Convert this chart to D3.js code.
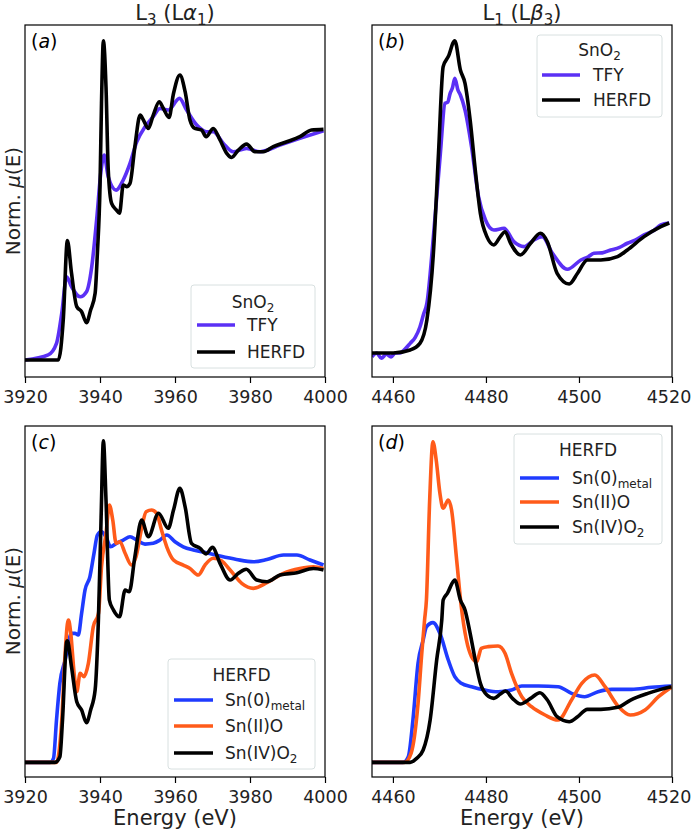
<!DOCTYPE html>
<html><head><meta charset="utf-8">
<script src="https://cdn.jsdelivr.net/npm/d3@7"></script>
<style>body{margin:0;background:#fff}svg{display:block}text{font-family:"DejaVu Sans",sans-serif}</style>
</head><body><svg id="c" width="692" height="832"></svg>
<script>
// ---- DATA ----
const tfyA_E = [3920,3926.2,3928.4,3929.8,3931.1,3932.4,3934.7,3936.4,3937.8,3939.1,3940.3,3941.1,3942.2,3944.3,3946.2,3948.0,3949.8,3952.0,3954.2,3956.0,3958.2,3961.2,3963.1,3965.8,3968.4,3970.2,3972.9,3975.5,3979.1,3982.7,3988.0,3993.3,3999.6];
const tfyA_V = [0,0.022,0.072,0.203,0.362,0.319,0.275,0.297,0.406,0.609,0.826,0.891,0.797,0.739,0.783,0.855,0.949,1.014,1.058,1.094,1.087,1.138,1.087,1.022,0.993,0.993,0.942,0.906,0.92,0.906,0.935,0.964,0.997];
const herfdA_E = [3920,3928.9,3930.2,3931.3,3932.4,3933.8,3935.1,3936.4,3937.5,3938.7,3939.3,3940.0,3940.4,3940.9,3941.6,3942.2,3943.1,3944.4,3945.2,3946.2,3947.1,3948.0,3949.3,3950.7,3951.6,3952.9,3954.2,3955.8,3956.9,3958.4,3959.6,3961.3,3962.7,3964.0,3965.3,3967.1,3968.3,3970.2,3972.0,3973.8,3975.1,3976.9,3979.1,3981.3,3983.6,3986.2,3989.8,3993.3,3996.4,3999.6];
const herfdA_V = [0,0,0.174,0.519,0.378,0.232,0.21,0.162,0.217,0.29,0.464,0.754,1.116,1.388,1.188,0.826,0.681,0.652,0.638,0.761,0.754,0.768,0.928,1.065,1.043,1.007,1.065,1.123,1.094,1.055,1.159,1.239,1.167,1.043,1.007,1.0,0.971,1.007,0.957,0.899,0.881,0.913,0.939,0.906,0.906,0.928,0.949,0.971,1.0,1.003];

const tfyB_E = [4455.5,4456.5,4457.5,4458.6,4459.6,4460.5,4461.5,4462.6,4463.7,4464.8,4465.8,4466.6,4467.3,4468.7,4470.2,4471.2,4471.8,4472.3,4472.8,4473.3,4474.0,4474.5,4475.5,4476.9,4478.4,4479.9,4481.7,4483.9,4486.0,4488.2,4490.3,4492.1,4494.3,4497.5,4500.4,4502.0,4503.2,4505.0,4506.8,4508.6,4510.4,4512.2,4514.0,4516.0,4517.6,4519.4];
const tfyB_V = [-0.03,0.0,-0.04,-0.01,-0.03,0.0,0.0,0.03,0.074,0.12,0.2,0.3,0.382,0.895,1.536,1.921,1.93,1.997,2.04,2.113,2.02,1.985,1.869,1.587,1.203,1.023,0.946,0.959,0.856,0.818,0.869,0.895,0.767,0.644,0.715,0.74,0.767,0.77,0.792,0.81,0.844,0.87,0.908,0.94,0.985,1.0];
const herfdB_E = [4455.5,4460.1,4463.7,4465.8,4467.3,4468.7,4469.8,4470.8,4471.9,4473.3,4474.5,4475.5,4476.6,4477.7,4478.8,4480.2,4481.7,4483.1,4484.1,4485.3,4487.4,4489.6,4491.7,4493.2,4495.3,4497.9,4499.7,4501.8,4504.7,4508.3,4510.4,4514.0,4517.6,4519.4];
const herfdB_V = [0,0,0.023,0.074,0.254,0.767,1.536,2.203,2.28,2.402,2.177,2.074,1.792,1.408,1.074,0.895,0.831,0.895,0.933,0.844,0.754,0.844,0.921,0.856,0.613,0.531,0.613,0.715,0.715,0.741,0.792,0.895,0.972,1.0];

const sn0C_E = [3920,3926.7,3927.6,3928.4,3929.3,3930.7,3932.4,3933.3,3934.2,3935.1,3936.0,3937.3,3938.4,3939.3,3940.4,3941.8,3942.8,3944.4,3946.2,3948.0,3949.8,3952.0,3954.2,3956.0,3957.8,3960.0,3962.2,3964.9,3968.4,3972.0,3976.4,3980.9,3984.5,3988.9,3992.5,3996.0,3999.6];
const sn0C_V = [0,0,0.021,0.22,0.411,0.532,0.671,0.671,0.662,0.775,0.896,0.965,1.087,1.182,1.2,1.164,1.121,1.139,1.156,1.173,1.156,1.135,1.139,1.156,1.182,1.147,1.121,1.104,1.09,1.073,1.055,1.043,1.055,1.078,1.078,1.052,1.026];
const sn2C_E = [3920,3928.4,3929.8,3930.7,3931.3,3931.6,3932.2,3933.1,3933.8,3934.7,3935.7,3936.9,3938.2,3939.6,3940.4,3941.6,3942.5,3943.4,3944.3,3945.3,3946.7,3948.4,3949.6,3951.1,3952.3,3953.8,3955.1,3956.4,3957.8,3959.6,3962.2,3964.0,3966.2,3968.0,3970.2,3972.4,3974.7,3977.8,3980.9,3984.5,3988.9,3993.3,3996.9,3999.6];
const sn2C_V = [0,0,0.22,0.567,0.72,0.74,0.671,0.463,0.367,0.463,0.446,0.515,0.705,0.775,1.017,1.19,1.338,1.26,1.139,1.147,1.087,1.026,1.069,1.217,1.303,1.312,1.295,1.208,1.121,1.052,1.026,1.008,0.974,1.026,1.061,1.048,1.0,0.931,0.905,0.934,0.983,1.008,1.017,1.008];
const sn4C_E = [3920,3928.0,3929.3,3930.0,3931.1,3931.3,3932.4,3933.8,3935.1,3936.4,3937.5,3938.7,3939.6,3940.3,3940.9,3941.6,3942.5,3943.6,3945.2,3946.7,3947.8,3949.3,3951.1,3952.9,3955.6,3958.2,3959.6,3961.3,3962.7,3964.4,3966.7,3968.3,3970.0,3972.0,3974.7,3976.9,3979.0,3981.8,3984.5,3988.0,3992.5,3996.9,3999.6];
const sn4C_V = [0,0,0.029,0.22,0.627,0.632,0.497,0.315,0.272,0.206,0.272,0.376,0.757,1.277,1.672,1.364,0.844,0.792,0.757,0.896,0.887,1.069,1.26,1.173,1.295,1.217,1.312,1.425,1.329,1.139,1.113,1.084,1.118,1.035,0.948,0.983,1.004,0.948,0.939,0.974,0.986,1.008,1.0];

const sn0D_E = [4455.5,4462.2,4463.3,4464.3,4465.4,4466.5,4467.2,4468.6,4470.1,4471.9,4473.3,4474.7,4476.9,4479.8,4482.6,4485.5,4487.7,4491.3,4495.5,4498.4,4501.2,4504.1,4507.0,4511.3,4515.6,4519.9];
const sn0D_V = [0,0,0.075,0.56,1.31,1.618,1.79,1.847,1.706,1.353,1.133,1.045,1.0,0.956,0.934,0.956,1.009,1.009,1.0,0.912,0.868,0.934,0.965,0.965,0.992,1.009];
const sn2D_E = [4455.5,4462.5,4463.9,4465.4,4466.2,4466.8,4467.2,4467.9,4468.6,4469.3,4470.1,4470.8,4471.9,4472.6,4473.7,4474.7,4475.8,4476.9,4478.0,4479.0,4480.5,4482.6,4484.1,4485.5,4487.7,4489.8,4492.7,4495.5,4498.4,4500.6,4503.4,4505.6,4508.5,4511.0,4514.2,4517.1,4520];
const sn2D_V = [0,0,0.119,0.78,1.44,1.88,2.147,3.47,4.24,4.0,3.558,3.36,3.47,3.34,2.676,2.058,1.618,1.397,1.33,1.508,1.53,1.539,1.442,1.177,0.868,0.736,0.626,0.56,0.825,1.045,1.155,1.0,0.736,0.626,0.692,0.868,1.0];
const sn4D_E = [4455.5,4463.7,4465.1,4466.5,4468.0,4469.4,4470.5,4470.8,4471.7,4473.3,4474.5,4475.5,4476.6,4477.7,4478.8,4480.2,4481.7,4483.1,4484.2,4485.7,4487.4,4489.6,4491.6,4493.2,4495.3,4497.9,4499.7,4501.8,4504.7,4508.3,4511.1,4514.8,4517.6,4519.8];
const sn4D_V = [0,0,0.053,0.163,0.56,1.35,1.88,2.147,2.235,2.41,2.147,2.014,1.706,1.353,1.045,0.89,0.846,0.903,0.943,0.846,0.771,0.846,0.921,0.824,0.603,0.537,0.603,0.7,0.7,0.727,0.824,0.912,0.965,1.0];

const ticksL3 = [3920,3940,3960,3980,4000];
const ticksL1 = [4460,4480,4500,4520];

// ---- DRAW ----
const svg = d3.select("#c");
const C = {tfy:"#5b30f5", herfd:"#000000", blue:"#1f3bff", orange:"#ff5b1a"};
const zip = (E,V)=>E.map((e,i)=>[e,V[i]]);
const LW = 3.6;

const panels = [
 {x0:25,x1:325,y0:25,y1:377,xd:[3920,4000],yd:[-0.074,1.457],ticks:ticksL3,label:"a",
  series:[{d:zip(tfyA_E,tfyA_V),c:C.tfy},{d:zip(herfdA_E,herfdA_V),c:C.herfd}]},
 {x0:372,x1:672,y0:25,y1:377,xd:[4455.5,4520],yd:[-0.185,2.523],ticks:ticksL1,label:"b",
  series:[{d:zip(tfyB_E,tfyB_V),c:C.tfy},{d:zip(herfdB_E,herfdB_V),c:C.herfd}]},
 {x0:25,x1:325,y0:426,y1:777,xd:[3920,4000],yd:[-0.076,1.749],ticks:ticksL3,label:"c",
  series:[{d:zip(sn0C_E,sn0C_V),c:C.blue},{d:zip(sn2C_E,sn2C_V),c:C.orange},{d:zip(sn4C_E,sn4C_V),c:C.herfd}]},
 {x0:372,x1:672,y0:426,y1:777,xd:[4455.5,4520],yd:[-0.194,4.448],ticks:ticksL1,label:"d",
  series:[{d:zip(sn0D_E,sn0D_V),c:C.blue},{d:zip(sn2D_E,sn2D_V),c:C.orange},{d:zip(sn4D_E,sn4D_V),c:C.herfd}]}
];

panels.forEach((p,i)=>{
  const x = d3.scaleLinear().domain(p.xd).range([p.x0,p.x1]);
  const y = d3.scaleLinear().domain(p.yd).range([p.y1,p.y0]);
  const clipId = "clip"+i;
  svg.append("clipPath").attr("id",clipId).append("rect")
    .attr("x",p.x0).attr("y",p.y0).attr("width",p.x1-p.x0).attr("height",p.y1-p.y0);
  const g = svg.append("g");
  const line = d3.line().x(d=>x(d[0])).y(d=>y(d[1])).curve(d3.curveMonotoneX);
  p.series.forEach(s=>{
    g.append("path").attr("clip-path",`url(#${clipId})`).attr("d",line(s.d))
     .attr("fill","none").attr("stroke",s.c).attr("stroke-width",LW)
     .attr("stroke-linejoin","round").attr("stroke-linecap","butt");
  });
  g.append("rect").attr("x",p.x0).attr("y",p.y0).attr("width",p.x1-p.x0).attr("height",p.y1-p.y0)
    .attr("fill","none").attr("stroke","#000").attr("stroke-width",1.2);
  const ax = g.append("g").attr("transform",`translate(0,${p.y1})`)
    .call(d3.axisBottom(x).tickValues(p.ticks).tickSize(6).tickPadding(8).tickFormat(d3.format("d")));
  ax.select(".domain").remove();
  ax.selectAll("line").attr("stroke","#000").attr("stroke-width",1.2);
  ax.selectAll("text").attr("font-size",17.5).attr("fill","#222").attr("font-family","DejaVu Sans")
    .attr("dx", d => (x(d) + 23 > 692) ? (692 - 1 - 22.5 - x(d)) : 0);
  // panel label
  const lt = g.append("text").attr("x",p.x0+6).attr("y",p.y0+23)
    .attr("font-family","Liberation Serif, serif").attr("font-size",19).attr("fill","#000");
  lt.append("tspan").text("(");
  lt.append("tspan").attr("font-style","italic").text(p.label);
  lt.append("tspan").text(")");
});

// titles
function title(cx, n1, greek, n2){
  const t = svg.append("text").attr("x",cx).attr("y",20).attr("text-anchor","middle").attr("font-size",21).attr("fill","#222");
  t.append("tspan").text("L"); t.append("tspan").attr("font-size",15).attr("dy",5).text(n1);
  t.append("tspan").attr("dy",-5).text(" (L"); t.append("tspan").attr("font-style","italic").text(greek);
  t.append("tspan").attr("font-size",15).attr("dy",5).text(n2); t.append("tspan").attr("dy",-5).text(")");
}
title(175,"3","α","1");
title(522,"1","β","3");

// y labels
[201,601].forEach(cy=>{
  const t = svg.append("text").attr("transform",`translate(20,${cy}) rotate(-90)`).attr("text-anchor","middle")
    .attr("font-size",20).attr("fill","#222");
  t.append("tspan").text("Norm. ");
  t.append("tspan").attr("font-style","italic").text("μ");
  t.append("tspan").text("(E)");
});
// x labels
[175,522].forEach(cx=>{
  svg.append("text").attr("x",cx).attr("y",825).attr("text-anchor","middle").attr("font-size",21).attr("fill","#222").text("Energy (eV)");
});

// legends
function legend(box, titleParts, entries){
  const g = svg.append("g");
  g.append("rect").attr("x",box.x).attr("y",box.y).attr("width",box.w).attr("height",box.h)
    .attr("rx",3).attr("fill","#fff").attr("fill-opacity",0.85).attr("stroke","#d8e0e0").attr("stroke-width",1);
  const tt = g.append("text").attr("x",box.x+box.w/2).attr("y",box.ty).attr("text-anchor","middle")
    .attr("font-size",17).attr("fill","#222");
  titleParts.forEach(pt=>{
    const s = tt.append("tspan").text(pt.t);
    if(pt.sub){s.attr("font-size",12).attr("dy",4);}
  });
  entries.forEach(e=>{
    g.append("line").attr("x1",box.hx0).attr("x2",box.hx1).attr("y1",e.y).attr("y2",e.y)
      .attr("stroke",e.c).attr("stroke-width",LW);
    const t = g.append("text").attr("x",box.tx).attr("y",e.y+6).attr("font-size",17).attr("fill","#222");
    e.parts.forEach(pt=>{
      const s = t.append("tspan").text(pt.t);
      if(pt.sub) s.attr("font-size",12).attr("dy",4);
    });
  });
}
const snO2Title = [{t:"SnO"},{t:"2",sub:true}];
legend({x:191,y:285,w:124,h:83,ty:308,hx0:197,hx1:235,tx:247}, snO2Title,
  [{y:325,c:C.tfy,parts:[{t:"TFY"}]},{y:352,c:C.herfd,parts:[{t:"HERFD"}]}]);
legend({x:537,y:35,w:125,h:82,ty:56,hx0:542,hx1:580,tx:593}, snO2Title,
  [{y:75,c:C.tfy,parts:[{t:"TFY"}]},{y:100,c:C.herfd,parts:[{t:"HERFD"}]}]);
legend({x:168,y:659,w:147,h:110,ty:681,hx0:174,hx1:213,tx:225}, [{t:"HERFD"}],
  [{y:700,c:C.blue,parts:[{t:"Sn(0)"},{t:"metal",sub:true}]},
   {y:726,c:C.orange,parts:[{t:"Sn(II)O"}]},
   {y:753,c:C.herfd,parts:[{t:"Sn(IV)O"},{t:"2",sub:true}]}]);
legend({x:514,y:434,w:148,h:110,ty:456,hx0:520,hx1:559,tx:572}, [{t:"HERFD"}],
  [{y:478,c:C.blue,parts:[{t:"Sn(0)"},{t:"metal",sub:true}]},
   {y:502,c:C.orange,parts:[{t:"Sn(II)O"}]},
   {y:527,c:C.herfd,parts:[{t:"Sn(IV)O"},{t:"2",sub:true}]}]);
</script></body></html>
